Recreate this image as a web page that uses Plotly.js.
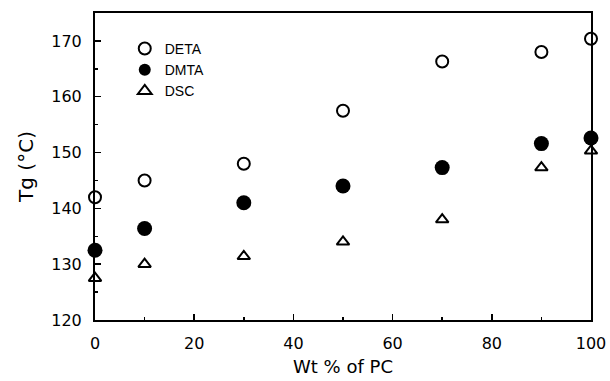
<!DOCTYPE html>
<html>
<head>
<meta charset="utf-8">
<script src="https://cdn.plot.ly/plotly-3.0.1.min.js"></script>
<style>html,body{margin:0;padding:0;background:#fff;}#chart{width:610px;height:381px;}</style>
</head>
<body>
<div id="chart"></div>
<script>
// Data
const wtPC = [0, 10, 30, 50, 70, 90, 100];
const tgDETA = [142.0, 145.0, 148.0, 157.5, 166.3, 168.0, 170.4];
const tgDMTA = [132.5, 136.4, 141.0, 144.0, 147.3, 151.6, 152.6];
const tgDSC  = [127.5, 130.0, 131.4, 134.0, 138.0, 147.3, 150.3];
const seriesNames = ["DETA", "DMTA", "DSC"];
const xTicks = [0, 20, 40, 60, 80, 100];
const yTicks = [120, 130, 140, 150, 160, 170];

const traces = [
  {x: wtPC, y: tgDETA, name: seriesNames[0], mode: 'markers', type: 'scatter', cliponaxis: false,
   marker: {symbol: 'circle-open', size: 12, color: '#000', line: {width: 2, color: '#000'}}},
  {x: wtPC, y: tgDMTA, name: seriesNames[1], mode: 'markers', type: 'scatter', cliponaxis: false,
   marker: {symbol: 'circle', size: 15, color: '#000'}},
  {x: wtPC, y: tgDSC, name: seriesNames[2], mode: 'markers', type: 'scatter', cliponaxis: false,
   marker: {symbol: 'triangle-up-open', size: 11, color: '#000', line: {width: 2, color: '#000'}}}
];

const tickFont = {family: 'DejaVu Sans, Arial, sans-serif', size: 16, color: '#000'};
const layout = {
  width: 610, height: 381,
  margin: {l: 95, r: 19, t: 13, b: 61, pad: 0},
  paper_bgcolor: '#fff', plot_bgcolor: '#fff',
  showlegend: true,
  legend: {x: 0.06, y: 0.935, xanchor: 'left', yanchor: 'top', bgcolor: 'rgba(0,0,0,0)',
           font: {family: 'Liberation Sans, Arial, sans-serif', size: 14, color: '#000'},
           tracegroupgap: 0, itemsizing: 'constant'},
  xaxis: {range: [0, 100], tickvals: xTicks, ticktext: xTicks.map(String),
          ticks: 'inside', ticklen: 6, tickwidth: 1.5, tickcolor: '#000',
          minor: {dtick: 10, ticks: 'inside', ticklen: 3, tickwidth: 1.5, tickcolor: '#000'},
          showline: true, linecolor: '#000', linewidth: 2, mirror: true,
          showgrid: false, zeroline: false, tickfont: tickFont, ticklabelstandoff: 8,
          title: {text: 'Wt % of PC', font: {family: 'DejaVu Sans, Arial, sans-serif', size: 18, color: '#000'}, standoff: 8}},
  yaxis: {range: [120, 175], tickvals: yTicks, ticktext: yTicks.map(String),
          ticks: 'inside', ticklen: 6, tickwidth: 1.5, tickcolor: '#000',
          minor: {dtick: 5, ticks: 'inside', ticklen: 3, tickwidth: 1.5, tickcolor: '#000'},
          showline: true, linecolor: '#000', linewidth: 2, mirror: true,
          showgrid: false, zeroline: false, tickfont: tickFont, ticklabelstandoff: 8,
          title: {text: 'Tg (°C)', font: {family: 'DejaVu Sans, Arial, sans-serif', size: 20, color: '#000'}, standoff: 12}}
};

Plotly.newPlot('chart', traces, layout, {displayModeBar: false, staticPlot: true});
</script>
</body>
</html>
